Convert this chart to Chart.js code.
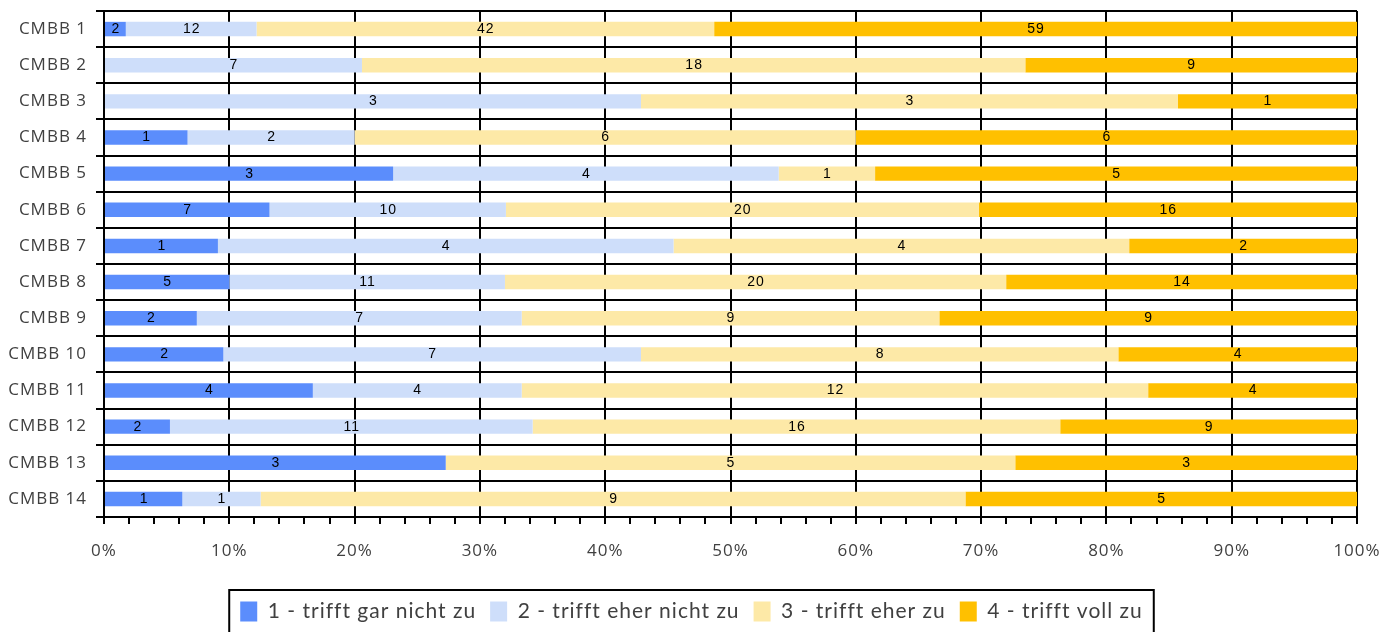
<!DOCTYPE html>
<html>
<head>
<meta charset="utf-8">
<script src="https://cdn.jsdelivr.net/npm/chart.js@4/dist/chart.umd.min.js"></script>
<style>
  html, body { margin: 0; padding: 0; background: #fff; }
  #wrap { width: 1400px; height: 632px; position: relative; }
</style>
</head>
<body>
<div id="wrap"><canvas id="chart"></canvas></div>
<script>
const categories = ["CMBB 1", "CMBB 2", "CMBB 3", "CMBB 4", "CMBB 5", "CMBB 6", "CMBB 7",
    "CMBB 8", "CMBB 9", "CMBB 10", "CMBB 11", "CMBB 12", "CMBB 13", "CMBB 14"];

const seriesNames = ["1 - trifft gar nicht zu", "2 - trifft eher nicht zu", "3 - trifft eher zu", "4 - trifft voll zu"];
const seriesColors = ["#5B8DFC", "#CEDEFA", "#FDE9A7", "#FFC000"];

// counts per answer
const garNicht   = [2, 0, 0, 1, 3, 7, 1, 5, 2, 2, 4, 2, 3, 1];
const eherNicht  = [12, 7, 3, 2, 4, 10, 4, 11, 7, 7, 4, 11, 0, 1];
const eherZu     = [42, 18, 3, 6, 1, 20, 4, 20, 9, 8, 12, 16, 5, 9];
const vollZu     = [59, 9, 1, 6, 5, 16, 2, 14, 9, 4, 4, 9, 3, 5];

const xTicks = [0, 10, 20, 30, 40, 50, 60, 70, 80, 90, 100];

const counts = [garNicht, eherNicht, eherZu, vollZu];
const totals = categories.map(function (c, i) {
    return counts.reduce(function (s, arr) { return s + arr[i]; }, 0);
});

const datasets = counts.map(function (arr, k) {
    return {
        label: seriesNames[k],
        data: arr.map(function (v, i) { return v / totals[i] * 100; }),
        counts: arr,
        backgroundColor: seriesColors[k],
        borderWidth: 0,
        categoryPercentage: 1,
        barPercentage: 0.4
    };
});

// the original text is a bit spread out
const spacing = {
    id: "spacing",
    beforeUpdate(chart) { chart.ctx.letterSpacing = "1px"; },
    beforeDraw(chart) { chart.ctx.letterSpacing = "1px"; }
};

// labels in the middle of each segment
const segmentLabels = {
    id: "segmentLabels",
    afterDatasetsDraw(chart) {
        const ctx = chart.ctx;
        ctx.save();
        ctx.font = "14px 'Liberation Sans', Arial, sans-serif";
        ctx.fillStyle = "#000";
        ctx.textAlign = "center";
        ctx.textBaseline = "middle";
        chart.data.datasets.forEach(function (ds, k) {
            const meta = chart.getDatasetMeta(k);
            meta.data.forEach(function (bar, i) {
                const v = ds.counts[i];
                if (!v) return;
                ctx.fillText(String(v), (bar.x + bar.base) / 2 + 0.5, bar.y);
            });
        });
        ctx.restore();
    }
};

// frame around the legend
const legendBox = {
    id: "legendBox",
    afterDraw(chart) {
        const boxes = chart.legend && chart.legend.legendHitBoxes;
        if (!boxes || !boxes.length) return;
        let l = Infinity, r = -Infinity;
        boxes.forEach(function (h) {
            l = Math.min(l, h.left); r = Math.max(r, h.left + h.width);
        });
        const ctx = chart.ctx;
        ctx.save();
        ctx.strokeStyle = "#000";
        ctx.lineWidth = 2;
        ctx.strokeRect(l - 11, 590, (r - l) + 22, 60);
        ctx.restore();
    }
};

const rowH = 506 / categories.length;

new Chart(document.getElementById("chart"), {
    type: "bar",
    data: { labels: categories, datasets: datasets },
    options: {
        indexAxis: "y",
        responsive: true,
        maintainAspectRatio: false,
        animation: false,
        layout: { padding: { left: 0, right: 17, top: 11, bottom: 0 } },
        plugins: {
            tooltip: { enabled: false },
            legend: {
                position: "bottom",
                labels: {
                    font: { family: "Lato, 'Open Sans', sans-serif", size: 21 },
                    color: "#404040",
                    boxWidth: 17,
                    boxHeight: 20,
                    padding: 14
                }
            }
        },
        scales: {
            x: {
                stacked: true,
                min: 0,
                max: 100,
                border: { color: "#000", width: 2 },
                ticks: {
                    stepSize: 2,
                    autoSkip: false,
                    maxRotation: 0,
                    padding: 17,
                    color: "#404040",
                    font: { family: "'Open Sans', Lato, sans-serif", size: 17 },
                    callback: function (v) { return xTicks.indexOf(v) >= 0 ? v + "%" : ""; }
                },
                grid: {
                    color: function (c) { return xTicks.indexOf(c.tick && c.tick.value) > 0 ? "#000" : "rgba(0,0,0,0)"; },
                    lineWidth: 2,
                    borderDash: [4, rowH - 4],
                    borderDashOffset: 2,
                    tickColor: "#000",
                    tickLength: 7,
                    tickWidth: 2
                },
                afterFit: function (scale) { scale.height = 70; scale.paddingLeft = 0; scale.paddingRight = 43; }
            },
            y: {
                stacked: true,
                border: { color: "#000", width: 2 },
                ticks: {
                    padding: 9,
                    color: "#404040",
                    font: { family: "'Open Sans', Lato, sans-serif", size: 17 }
                },
                grid: {
                    offset: true,
                    color: "#000",
                    lineWidth: 2,
                    tickColor: "#000",
                    tickLength: 8
                },
                afterFit: function (scale) { scale.width = 104; scale.paddingTop = 0; scale.paddingBottom = 0; }
            }
        }
    },
    plugins: [spacing, segmentLabels, legendBox]
});
</script>
</body>
</html>
